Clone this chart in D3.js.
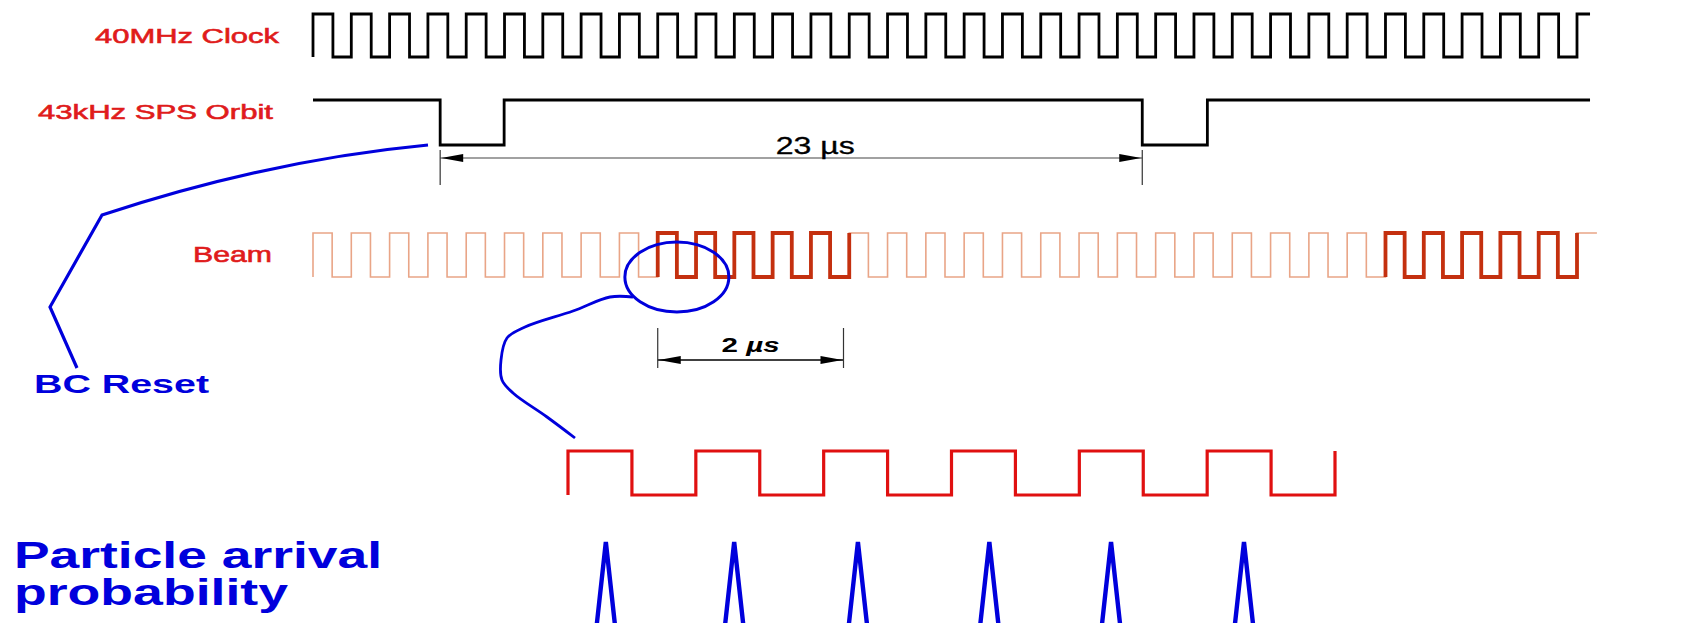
<!DOCTYPE html>
<html>
<head>
<meta charset="utf-8">
<script src="https://cdn.jsdelivr.net/npm/d3@7"></script>
<style>
  body { margin: 0; background: #fff; }
  svg { display: block; }
</style>
</head>
<body>
<script>
// timing values, in 40MHz bunch-clock periods (BC) unless noted
const clockCycles = 33;
const clockTail = 0.34;
const orbitEdges = [3.32, 4.99, 21.65, 23.35];
const orbitEnd = 33.34;
const beamCycles = 33;
const beamTail = 0.52;
const beamTrains = [[9, 14], [28, 33]];
const orbitSpan = ["23 \u00b5s", 3.32, 21.65];
const trainSpan = ["2 \u00b5s", 9, 13.85];
// zoomed view, in ns
const bunchCycles = 6;
const bunchPeriodNs = 25;
const arrivalPeaks = [7.4, 32.5, 56.7, 82.4, 106.2, 132.2];
const rowLabels = ["40MHz Clock", "43kHz SPS Orbit", "Beam"];

const width = 1701, height = 623;
const blue = "#0000dc", red = "#e01b1b";
const font = "'Liberation Sans', Arial, sans-serif";

const svg = d3.select("body").append("svg")
    .attr("width", width).attr("height", height);

const x = d3.scaleLinear().domain([0, 33]).range([313, 1577]);
const yClock = d3.scaleLinear().domain([0, 1]).range([57, 14]);
const yOrbit = d3.scaleLinear().domain([0, 1]).range([145, 100]);
const yBeam = d3.scaleLinear().domain([0, 1]).range([277, 233]);
const xZoom = d3.scaleLinear().domain([0, bunchCycles * bunchPeriodNs]).range([568, 1335]);
const yBunch = d3.scaleLinear().domain([0, 1]).range([495, 451]);

// square wave: starts with a rising edge at `start`
function wave(start, cycles, tail, duty) {
    const pts = [];
    for (let i = 0; i < cycles; i++) {
        const t = start + i;
        pts.push([t, 0], [t, 1], [t + duty, 1], [t + duty, 0]);
    }
    const t = start + cycles;
    pts.push([t, 0], [t, 1]);
    if (tail > 0) pts.push([t + tail, 1]);
    return pts;
}

function drawLine(pts, sx, sy, color, w) {
    svg.append("path")
        .attr("d", d3.line().x(d => sx(d[0])).y(d => sy(d[1]))(pts))
        .attr("fill", "none")
        .attr("stroke", color)
        .attr("stroke-width", w)
        .attr("stroke-linejoin", "miter");
}

// 40 MHz clock
drawLine(wave(0, clockCycles, clockTail, 0.52), x, yClock, "#000", 2.8);

// orbit signal
const orbitPts = [[0, 1]];
orbitEdges.forEach((e, i) => {
    const from = i % 2 == 0 ? 1 : 0;
    orbitPts.push([e, from], [e, 1 - from]);
});
orbitPts.push([orbitEnd, 1]);
drawLine(orbitPts, x, yOrbit, "#000", 2.8);

// beam, with filled bunch trains drawn darker
drawLine(wave(0, beamCycles, beamTail, 0.5), x, yBeam, "#e9a587", 1.6);
beamTrains.forEach(tr => {
    drawLine(wave(tr[0], tr[1] - tr[0], 0, 0.5), x, yBeam, "#c4300f", 3.8);
});

// zoomed bunch structure
const zoomPts = wave(0, bunchCycles, 0, 0.5).map(d => [d[0] * bunchPeriodNs, d[1]]);
drawLine(zoomPts, xZoom, yBunch, "#e01010", 3.2);

// arrival probability peaks
svg.append("g").selectAll("path")
    .data(arrivalPeaks)
    .join("path")
    .attr("d", p => `M${xZoom(p) - 11},642L${xZoom(p)},542L${xZoom(p) + 11},642`)
    .attr("fill", "none")
    .attr("stroke", blue)
    .attr("stroke-width", 4.4)
    .attr("stroke-linejoin", "bevel");

// dimension lines
function dimension(span, yLine, yTop, yBot, textShift, bold) {
    const x1 = x(span[1]), x2 = x(span[2]);
    const g = svg.append("g");
    g.append("line").attr("x1", x1).attr("x2", x2).attr("y1", yLine).attr("y2", yLine)
        .attr("stroke", bold ? "#000" : "#444").attr("stroke-width", bold ? 1.4 : 1.2);
    [x1, x2].forEach(xx => {
        g.append("line").attr("x1", xx).attr("x2", xx).attr("y1", yTop).attr("y2", yBot)
            .attr("stroke", "#333").attr("stroke-width", 1.2);
    });
    g.append("path").attr("d", `M${x1 + 1},${yLine}L${x1 + 23},${yLine - 4}L${x1 + 23},${yLine + 4}Z`);
    g.append("path").attr("d", `M${x2 - 1},${yLine}L${x2 - 23},${yLine - 4}L${x2 - 23},${yLine + 4}Z`);
    return (x1 + x2) / 2 + textShift;
}

const c23 = dimension(orbitSpan, 158, 150, 185, 24, false);
svg.append("text").attr("x", c23).attr("y", 154)
    .attr("text-anchor", "middle")
    .attr("font-family", font).attr("font-size", 23)
    .attr("stroke", "#000").attr("stroke-width", 0.3)
    .attr("textLength", 79).attr("lengthAdjust", "spacingAndGlyphs")
    .text(orbitSpan[0]);

const c2 = dimension(trainSpan, 360, 328, 368, 0, true);
const t2 = svg.append("text").attr("x", c2).attr("y", 352)
    .attr("text-anchor", "middle")
    .attr("font-family", font).attr("font-size", 21).attr("font-weight", "bold")
    .attr("textLength", 58).attr("lengthAdjust", "spacingAndGlyphs");
t2.append("tspan").text("2 ");
t2.append("tspan").attr("font-style", "italic").text(trainSpan[0].slice(2));

// row labels
const labelPos = [[95, 43, 21, 184], [38, 119, 21, 235], [193, 262, 22, 79]];
rowLabels.forEach((l, i) => {
    const p = labelPos[i];
    svg.append("text").attr("x", p[0]).attr("y", p[1])
        .attr("font-family", font).attr("font-size", p[2])
        .attr("fill", red).attr("stroke", red).attr("stroke-width", 0.6)
        .attr("textLength", p[3]).attr("lengthAdjust", "spacingAndGlyphs")
        .text(l);
});

// BC reset pointer
const bc = d3.path();
bc.moveTo(428, 145);
bc.quadraticCurveTo(269, 160, 102, 215);
bc.lineTo(50, 307);
bc.lineTo(77, 368);
svg.append("path").attr("d", bc.toString())
    .attr("fill", "none").attr("stroke", blue).attr("stroke-width", 3.2);

// magnifier circle and lead to the zoomed view
svg.append("ellipse")
    .attr("cx", x(9.5)).attr("cy", 277).attr("rx", 52).attr("ry", 35)
    .attr("fill", "none").attr("stroke", blue).attr("stroke-width", 3);

const lead = [[633, 297], [610, 297], [573, 311], [525, 327], [507, 338], [501, 360],
    [502, 380], [513, 393], [547, 417], [575, 438]];
svg.append("path")
    .attr("d", d3.line().curve(d3.curveCatmullRom)(lead))
    .attr("fill", "none").attr("stroke", blue).attr("stroke-width", 2.8);

// blue captions
const captions = [["BC Reset", 34, 393, 26, 175], ["Particle arrival", 14, 568, 37, 368],
    ["probability", 14, 605, 37, 274]];
captions.forEach(c => {
    svg.append("text").attr("x", c[1]).attr("y", c[2])
        .attr("font-family", font).attr("font-size", c[3]).attr("font-weight", "bold")
        .attr("fill", blue)
        .attr("textLength", c[4]).attr("lengthAdjust", "spacingAndGlyphs")
        .text(c[0]);
});
</script>
</body>
</html>
